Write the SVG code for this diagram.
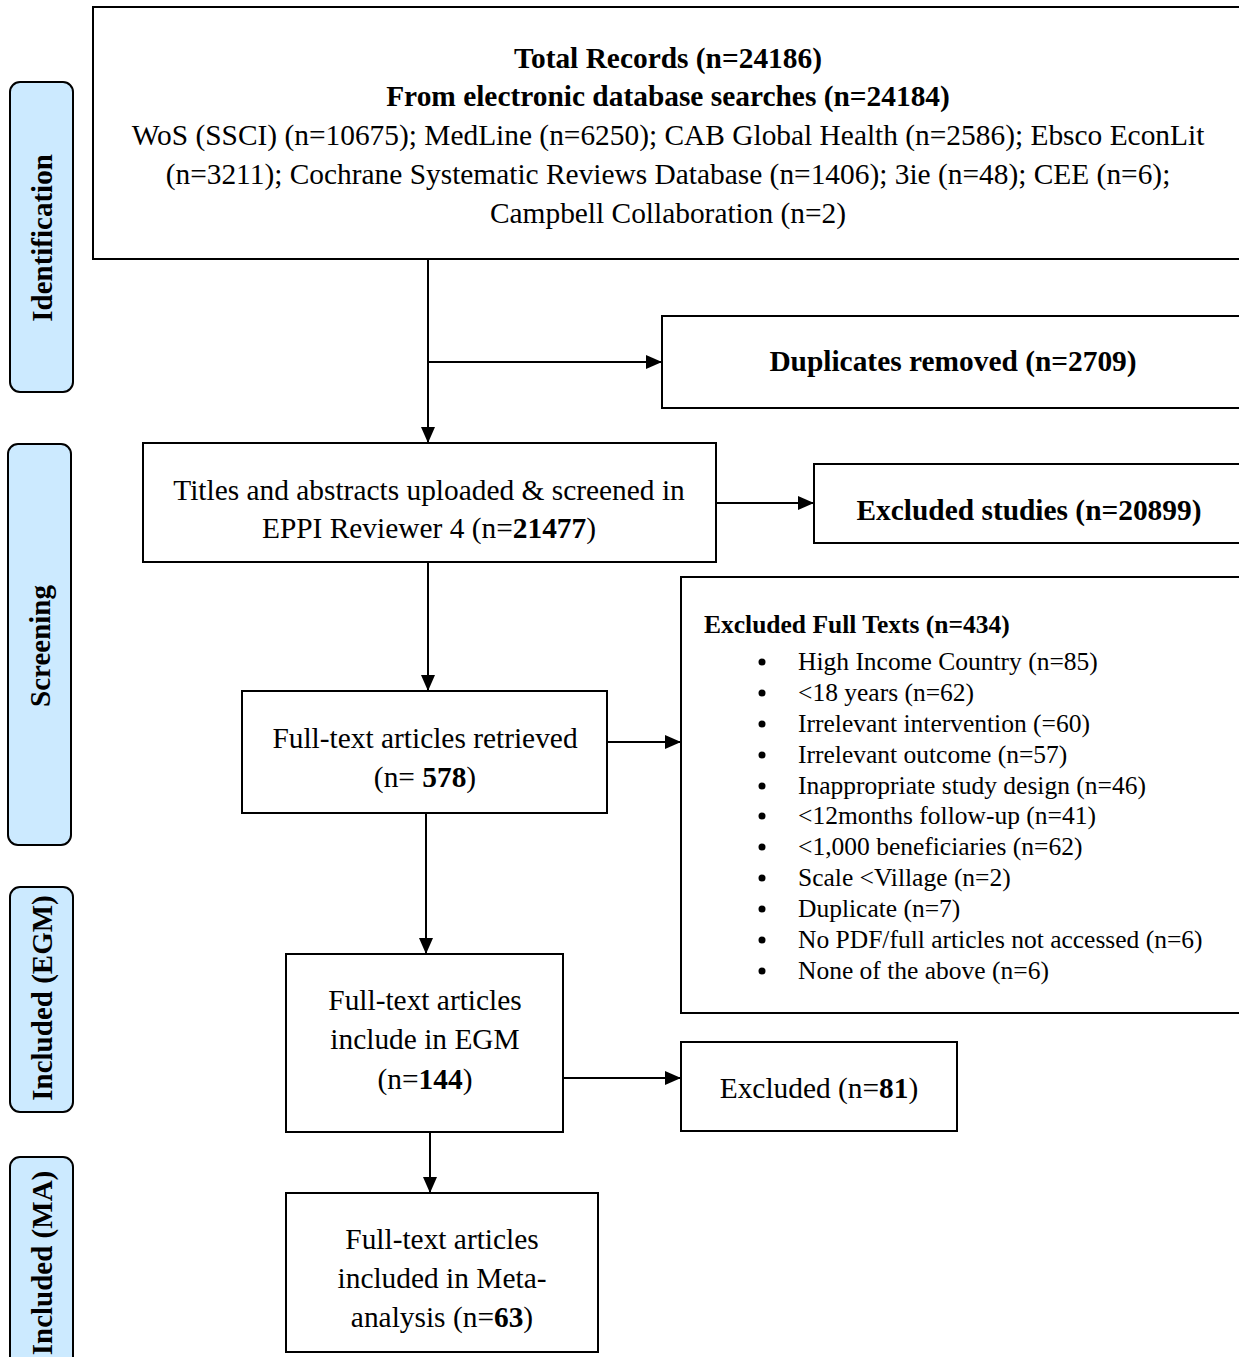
<svg xmlns="http://www.w3.org/2000/svg" width="1239" height="1357" viewBox="0 0 1239 1357">
<style>
  text { font-family: "Liberation Serif", "Times New Roman", serif; fill: #000; }
  .t { font-size: 29.4px; text-anchor: middle; }
  .b { font-weight: bold; }
  .box { fill: #fff; stroke: #000; stroke-width: 2; }
  .lab { fill: #cceaff; stroke: #000; stroke-width: 2; }
  .labt { font-size: 29px; font-weight: bold; text-anchor: middle; }
  .li { font-size: 25.5px; }
  .bul { fill: #000; }
  .con { stroke: #000; stroke-width: 2; fill: none; marker-end: url(#ah); }
</style>
<defs>
  <marker id="ah" viewBox="0 0 16 14" refX="16" refY="7" markerWidth="16" markerHeight="14" markerUnits="userSpaceOnUse" orient="auto">
    <path d="M0,0 L16,7 L0,14 Z" fill="#000"/>
  </marker>
</defs>
<rect width="1239" height="1357" fill="#fff"/>

<g id="label-identification">
  <rect class="lab" x="10" y="82" width="63" height="310" rx="10"/>
  <text class="labt" transform="translate(52,238) rotate(-90)">Identification</text>
</g>
<g id="label-screening">
  <rect class="lab" x="8" y="444" width="63" height="401" rx="10"/>
  <text class="labt" transform="translate(50,646) rotate(-90)">Screening</text>
</g>
<g id="label-included-egm">
  <rect class="lab" x="10" y="887" width="63" height="225" rx="10"/>
  <text class="labt" transform="translate(52,998) rotate(-90)">Included (EGM)</text>
</g>
<g id="label-included-ma">
  <rect class="lab" x="10" y="1157" width="63" height="220" rx="10"/>
  <text class="labt" transform="translate(52,1263) rotate(-90)">Included (MA)</text>
</g>

<g id="node-total">
  <rect class="box" x="93" y="7" width="1160" height="252"/>
  <text class="t b" x="668" y="68">Total Records (n=24186)</text>
  <text class="t b" x="668" y="106">From electronic database searches (n=24184)</text>
  <text class="t" x="668" y="145">WoS (SSCI) (n=10675); MedLine (n=6250); CAB Global Health (n=2586); Ebsco EconLit</text>
  <text class="t" x="668" y="184">(n=3211); Cochrane Systematic Reviews Database (n=1406); 3ie (n=48); CEE (n=6);</text>
  <text class="t" x="668" y="223">Campbell Collaboration (n=2)</text>
</g>

<g id="node-duplicates">
  <rect class="box" x="662" y="316" width="590" height="92"/>
  <text class="t b" x="953" y="371">Duplicates removed (n=2709)</text>
</g>

<g id="node-titles">
  <rect class="box" x="143" y="443" width="573" height="119"/>
  <text class="t" x="429" y="500">Titles and abstracts uploaded &amp; screened in</text>
  <text class="t" x="429" y="538">EPPI Reviewer 4 (n=<tspan class="b">21477</tspan>)</text>
</g>

<g id="node-excluded-studies">
  <rect class="box" x="814" y="464" width="440" height="79"/>
  <text class="t b" x="1029" y="520">Excluded studies (n=20899)</text>
</g>

<g id="node-retrieved">
  <rect class="box" x="242" y="691" width="365" height="122"/>
  <text class="t" x="425" y="748">Full-text articles retrieved</text>
  <text class="t" x="425" y="787">(n= <tspan class="b">578</tspan>)</text>
</g>

<g id="node-excluded-fulltexts">
  <rect class="box" x="681" y="577" width="572" height="436"/>
  <text class="li b" x="704" y="633">Excluded Full Texts (n=434)</text>
  <circle class="bul" cx="762" cy="662" r="3.5"/><text class="li" x="798" y="670">High Income Country (n=85)</text>
  <circle class="bul" cx="762" cy="693" r="3.5"/><text class="li" x="798" y="701">&lt;18 years (n=62)</text>
  <circle class="bul" cx="762" cy="724" r="3.5"/><text class="li" x="798" y="732">Irrelevant intervention (=60)</text>
  <circle class="bul" cx="762" cy="755" r="3.5"/><text class="li" x="798" y="763">Irrelevant outcome (n=57)</text>
  <circle class="bul" cx="762" cy="786" r="3.5"/><text class="li" x="798" y="794">Inappropriate study design (n=46)</text>
  <circle class="bul" cx="762" cy="816" r="3.5"/><text class="li" x="798" y="824">&lt;12months follow-up (n=41)</text>
  <circle class="bul" cx="762" cy="847" r="3.5"/><text class="li" x="798" y="855">&lt;1,000 beneficiaries (n=62)</text>
  <circle class="bul" cx="762" cy="878" r="3.5"/><text class="li" x="798" y="886">Scale &lt;Village (n=2)</text>
  <circle class="bul" cx="762" cy="909" r="3.5"/><text class="li" x="798" y="917">Duplicate (n=7)</text>
  <circle class="bul" cx="762" cy="940" r="3.5"/><text class="li" x="798" y="948">No PDF/full articles not accessed (n=6)</text>
  <circle class="bul" cx="762" cy="971" r="3.5"/><text class="li" x="798" y="979">None of the above (n=6)</text>
</g>

<g id="node-egm">
  <rect class="box" x="286" y="954" width="277" height="178"/>
  <text class="t" x="425" y="1010">Full-text articles</text>
  <text class="t" x="425" y="1049">include in EGM</text>
  <text class="t" x="425" y="1089">(n=<tspan class="b">144</tspan>)</text>
</g>

<g id="node-excluded-81">
  <rect class="box" x="681" y="1042" width="276" height="89"/>
  <text class="t" x="819" y="1098">Excluded (n=<tspan class="b">81</tspan>)</text>
</g>

<g id="node-ma">
  <rect class="box" x="286" y="1193" width="312" height="159"/>
  <text class="t" x="442" y="1249">Full-text articles</text>
  <text class="t" x="442" y="1288">included in Meta-</text>
  <text class="t" x="442" y="1327">analysis (n=<tspan class="b">63</tspan>)</text>
</g>

<g id="connectors">
  <path class="con" d="M428,259 L428,443"/>
  <path class="con" d="M428,362 L662,362"/>
  <path class="con" d="M716,503 L814,503"/>
  <path class="con" d="M428,562 L428,691"/>
  <path class="con" d="M607,742 L681,742"/>
  <path class="con" d="M426,813 L426,954"/>
  <path class="con" d="M563,1078 L681,1078"/>
  <path class="con" d="M430,1132 L430,1193"/>
</g>
</svg>
